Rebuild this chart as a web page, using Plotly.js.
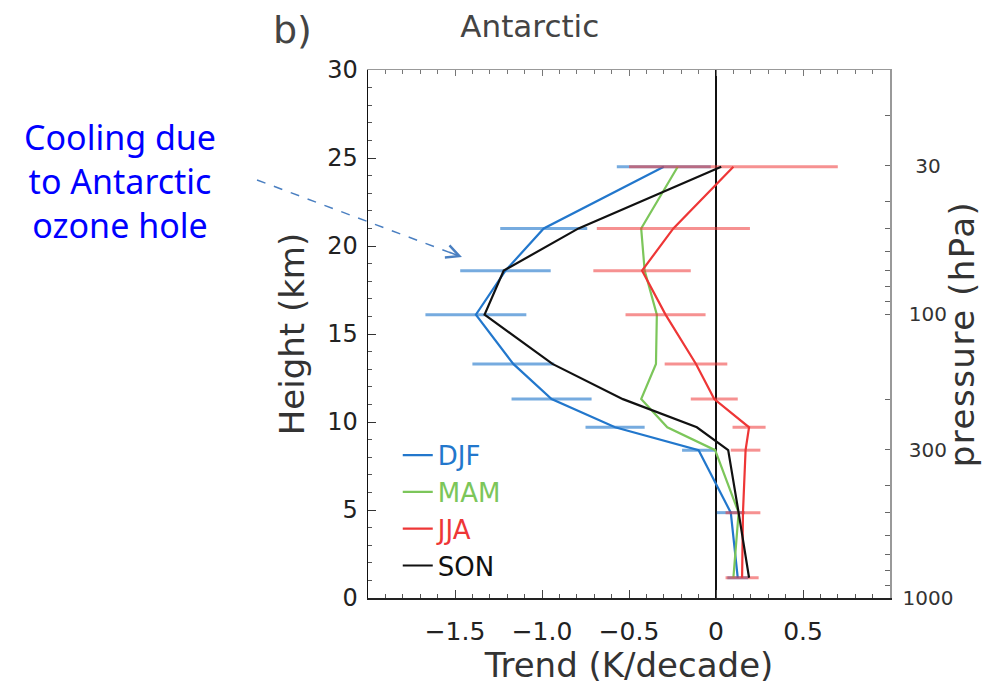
<!DOCTYPE html>
<html>
<head>
<meta charset="utf-8">
<script src="https://cdn.plot.ly/plotly-3.0.1.min.js"></script>
<style>
html,body{margin:0;padding:0;background:#fff;}
#chart{width:982px;height:693px;}
.g-y2title text{letter-spacing:1.5px;}
</style>
</head>
<body>
<div id="chart"></div>
<script>
// ---- data ----
const seasons = ['DJF', 'MAM', 'JJA', 'SON'];
const levelHeightKm = [24.5, 21.0, 18.6, 16.1, 13.3, 11.3, 9.7, 8.4, 4.85, 1.15];
const djfTrend = [-0.30, -0.99, -1.21, -1.38, -1.165, -0.945, -0.58, -0.10, 0.085, 0.125];
const djfErr   = [0.27, 0.25, 0.26, 0.29, 0.235, 0.23, 0.17, 0.095, 0.08, 0.06];
const mamTrend = [-0.22, -0.43, -0.41, -0.34, -0.345, -0.43, -0.28, -0.005, 0.13, 0.10];
const jjaTrend = [0.10, -0.245, -0.425, -0.29, -0.115, -0.01, 0.19, 0.17, 0.155, 0.15];
const jjaErr   = [0.60, 0.44, 0.28, 0.23, 0.18, 0.135, 0.095, 0.085, 0.10, 0.095];
const sonTrend = [0.03, -0.79, -1.22, -1.33, -0.94, -0.535, -0.11, 0.07, 0.13, 0.19];

const xTickVals = [-1.5, -1.0, -0.5, 0, 0.5];
const xTickText = ['\u22121.5', '\u22121.0', '\u22120.5', '0', '0.5'];
const pressureTickVals = [20, 30, 40, 50, 60, 70, 80, 90, 100, 200, 300, 400, 500, 600, 700, 800, 900, 1000];
const pressureTickText = ['', '\u200730', '', '', '', '', '', '', '\u2008100', '', '\u2008300', '', '', '', '', '', '', '1000'];

// ---- styles ----
const colDJF = '#2277cc', colMAM = '#7cc65a', colJJA = '#ee3636', colSON = '#111111';
const FONT = 'DejaVu Sans, Noto Sans, sans-serif';

function leg(name, c) { return '<span style="color:' + c + '">' + name + '</span>'; }

const traces = [
  { x: djfTrend, y: levelHeightKm, type: 'scatter', mode: 'lines', name: leg(seasons[0], colDJF),
    line: { color: colDJF, width: 2.2 },
    error_x: { type: 'data', array: djfErr, visible: true, color: 'rgba(34,119,204,0.62)', thickness: 3, width: 0 } },
  { x: mamTrend, y: levelHeightKm, type: 'scatter', mode: 'lines', name: leg(seasons[1], colMAM),
    line: { color: colMAM, width: 2.2 } },
  { x: jjaTrend, y: levelHeightKm, type: 'scatter', mode: 'lines', name: leg(seasons[2], colJJA),
    line: { color: colJJA, width: 2.2 },
    error_x: { type: 'data', array: jjaErr, visible: true, color: 'rgba(238,54,54,0.55)', thickness: 3, width: 0 } },
  { x: sonTrend, y: levelHeightKm, type: 'scatter', mode: 'lines', name: leg(seasons[3], colSON),
    line: { color: colSON, width: 2.2 } },
  { x: [], y: [], xaxis: 'x2', yaxis: 'y2', type: 'scatter', mode: 'lines', showlegend: false, hoverinfo: 'skip' }
];

const layout = {
  width: 982, height: 693,
  margin: { l: 368, r: 92, t: 70, b: 95 },
  paper_bgcolor: '#ffffff', plot_bgcolor: '#ffffff',
  font: { family: FONT, color: '#333333' },
  showlegend: true,
  title: { text: 'Antarctic', x: 0.31, xref: 'paper', xanchor: 'center', y: 0.962, yref: 'container', yanchor: 'middle',
           font: { family: FONT, size: 31, color: '#444444' } },
  xaxis: {
    range: [-2, 1], showgrid: false, zeroline: true, zerolinecolor: '#111111', zerolinewidth: 1.5,
    showline: true, linecolor: '#222222', linewidth: 1.5, mirror: false,
    tickmode: 'array', tickvals: xTickVals, ticktext: xTickText,
    ticks: 'inside', ticklen: 8, tickwidth: 1, tickcolor: '#444444',
    minor: { tickmode: 'linear', tick0: 0, dtick: 0.1, ticks: 'inside', ticklen: 4, tickcolor: '#555555', showgrid: false },
    tickfont: { family: FONT, size: 25, color: '#222222' },
    ticklabelstandoff: 10,
    title: { text: 'Trend (K/decade)', font: { family: FONT, size: 34, color: '#333333' }, standoff: 6 }
  },
  xaxis2: {
    range: [-2, 1], overlaying: 'x', side: 'top', anchor: 'y', showgrid: false, zeroline: false,
    showline: true, linecolor: '#999999', linewidth: 1.5,
    tickmode: 'linear', tick0: 0, dtick: 0.5, ticks: 'inside', ticklen: 6, tickcolor: '#777777',
    minor: { tickmode: 'linear', tick0: 0, dtick: 0.1, ticks: 'inside', ticklen: 4, tickcolor: '#777777', showgrid: false },
    showticklabels: false
  },
  yaxis: {
    range: [0, 30], showgrid: false, zeroline: false,
    showline: true, linecolor: '#111111', linewidth: 1.5,
    tickmode: 'linear', tick0: 0, dtick: 5, ticks: 'inside', ticklen: 8, tickcolor: '#333333',
    minor: { tickmode: 'linear', tick0: 0, dtick: 1, ticks: 'inside', ticklen: 4, tickcolor: '#555555', showgrid: false },
    tickfont: { family: FONT, size: 24, color: '#222222' },
    ticklabelstandoff: 4,
    title: { text: 'Height (km)', font: { family: FONT, size: 34, color: '#333333' }, standoff: 12 }
  },
  yaxis2: {
    type: 'log', range: [3, 1.139], overlaying: 'y', side: 'right', anchor: 'x',
    showgrid: false, zeroline: false, showline: true, linecolor: '#999999', linewidth: 1.5,
    tickmode: 'array', tickvals: pressureTickVals, ticktext: pressureTickText,
    ticks: 'inside', ticklen: 5, tickcolor: '#666666',
    tickfont: { family: FONT, size: 20, color: '#333333' },
    ticklabelstandoff: 7,
    title: { text: 'pressure (hPa)', font: { family: FONT, size: 34, color: '#333333' }, standoff: 10 }
  },
  legend: {
    x: 0.057, y: 0.315, xanchor: 'left', yanchor: 'top', bgcolor: 'rgba(0,0,0,0)',
    font: { family: FONT, size: 26 }, itemwidth: 30, tracegroupgap: 0
  },
  shapes: [
    { type: 'line', xref: 'paper', yref: 'paper', x0: -0.2126, y0: 0.7917, x1: 0.176, y1: 0.6472,
      line: { color: '#4a7fc1', width: 1.5, dash: 'dash' } }
  ],
  annotations: [
    { xref: 'paper', yref: 'paper', x: -0.475, y: 0.79, xanchor: 'center', yanchor: 'middle', showarrow: false,
      text: 'Cooling due<br>to Antarctic<br>ozone hole', align: 'center',
      font: { family: 'Noto Sans, DejaVu Sans, sans-serif', size: 34, color: '#0000ff' } },
    { xref: 'paper', yref: 'paper', x: 0.180, y: 0.6458, ax: -14, ay: -5.3, text: '', showarrow: true,
      arrowhead: 5, arrowsize: 1.7, arrowwidth: 1.5, arrowcolor: '#4a7fc1', standoff: 0 },
    { xref: 'paper', yref: 'paper', x: -0.145, y: 1.075, xanchor: 'center', yanchor: 'middle', showarrow: false,
      text: 'b)', font: { family: FONT, size: 38, color: '#444444' } }
  ]
};

Plotly.newPlot('chart', traces, layout, { displayModeBar: false, staticPlot: true });
</script>
</body>
</html>
